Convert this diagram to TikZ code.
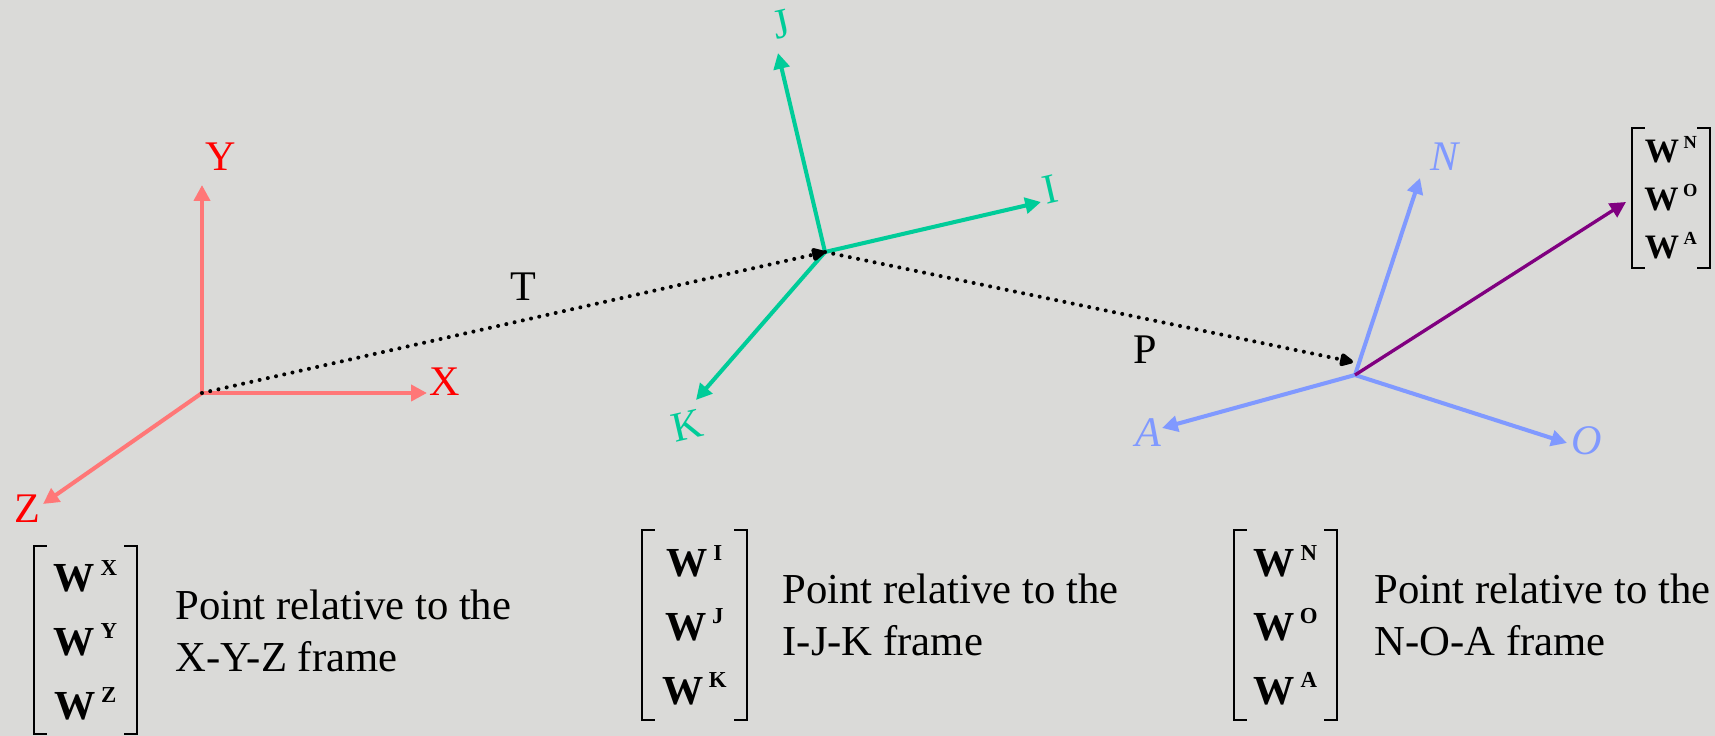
\documentclass[tikz,border=0pt]{standalone}
\usepackage{fontspec}
\setmainfont{Liberation Serif}
\usetikzlibrary{arrows.meta,positioning}

\definecolor{bgray}{RGB}{218,218,216}
\definecolor{xyzline}{RGB}{255,119,119}
\definecolor{xyztext}{RGB}{255,0,0}
\definecolor{ijkgreen}{RGB}{0,204,153}
\definecolor{noablue}{RGB}{128,153,255}
\definecolor{wpurple}{RGB}{128,0,128}

% bold W with a small bold frame letter raised next to it
\newcommand{\wcomp}[2][13]{\textbf{W}\hspace{0.13em}\raisebox{0.4em}{\fontsize{#1}{#1}\selectfont\bfseries #2}}
% square brackets round a vector node
\newcommand{\vecbrackets}[1]{%
  \draw[bracket] (#1.north west) ++(13,0) -- (#1.north west) -- (#1.south west) -- ++(13,0);
  \draw[bracket] (#1.north east) ++(-13,0) -- (#1.north east) -- (#1.south east) -- ++(-13,0);}

\tikzset{
  frameaxis/.style={line width=2.3pt, -{Triangle[length=9pt,width=9pt]}},
  axislab/.style={font=\fontsize{24}{26}\selectfont, inner sep=0pt},
  transf/.style={line width=2.3pt, dash pattern=on 0pt off 4.8pt, line cap=round,
    -{Triangle[length=9pt,width=8pt,round=false]}},
  vecbox/.style={inner sep=0pt, align=center, font=\fontsize{23.5}{36.2}\selectfont},
  bracket/.style={line width=1.1pt},
  vectext/.style={align=left, inner sep=0pt, font=\fontsize{24.3}{29.6}\selectfont}
}

\begin{document}
\begin{tikzpicture}[x=0.02cm, y=-0.02cm]
  \useasboundingbox (0,0) rectangle (1715,736);
  \fill[bgray] (0,0) rectangle (1715,736);

  % X-Y-Z frame
  \coordinate (oxyz) at (202,393);
  \coordinate (xtip) at (427,393);
  \coordinate (ytip) at (202,185);
  \coordinate (ztip) at (43,504);
  \draw[frameaxis, xyzline] (oxyz) -- (xtip);
  \draw[frameaxis, xyzline] (oxyz) -- (ytip);
  \draw[frameaxis, xyzline] (oxyz) -- (ztip);
  \node[axislab, text=xyztext] (xlab) at (445,382) {X};
  \node[axislab, text=xyztext] (ylab) at (221,157) {Y};
  \node[axislab, text=xyztext] (zlab) at (27,509) {Z};

  % I-J-K frame
  \coordinate (oijk) at (825,252);
  \coordinate (itip) at (1041,202);
  \coordinate (jtip) at (778,53);
  \coordinate (ktip) at (696,400);
  \draw[frameaxis, ijkgreen] (oijk) -- (itip);
  \draw[frameaxis, ijkgreen] (oijk) -- (jtip);
  \draw[frameaxis, ijkgreen] (oijk) -- (ktip);
  \node[axislab, text=ijkgreen, rotate=13] (ilab) at (1050,189) {I};
  \node[axislab, text=ijkgreen, rotate=13] (jlab) at (781,24) {J};
  \node[axislab, text=ijkgreen, rotate=13] (klab) at (687,426) {K};

  % N-O-A frame
  \coordinate (onoa) at (1355,375);
  \coordinate (ntip) at (1420,178);
  \coordinate (otip) at (1567,443);
  \coordinate (atip) at (1162,428);
  \draw[frameaxis, noablue] (onoa) -- (ntip);
  \draw[frameaxis, noablue] (onoa) -- (otip);
  \draw[frameaxis, noablue] (onoa) -- (atip);
  \node[axislab, text=noablue] (nlab) at (1446,157) {\textit{N}};
  \node[axislab, text=noablue] (olab) at (1587,441) {\textit{O}};
  \node[axislab, text=noablue] (alab) at (1148,433) {\textit{A}};

  % transforms
  \coordinate (ptip) at (1353,362);
  \draw[transf] (oxyz) -- (oijk);
  \draw[transf] (oijk) -- (ptip);
  \node[axislab] (tlab) at (523,287) {T};
  \node[axislab] (plab) at (1145,350) {P};

  % the point
  \node[vecbox, font=\fontsize{19.5}{27.3}\selectfont, minimum width=1.56cm, minimum height=2.8cm]
    (vecpt) at (1671,198) {\wcomp[10.5]{N}\\\wcomp[10.5]{O}\\\wcomp[10.5]{A}};
  \vecbrackets{vecpt}
  \coordinate (wtip) at (1626,202);
  \draw[frameaxis, wpurple, line width=1.9pt] (onoa) -- (wtip);

  % vectors in each frame
  \node[vecbox, minimum width=2.06cm, minimum height=3.76cm] (vecxyz) at (85.5,640)
    {\wcomp{X}\\\wcomp{Y}\\\wcomp{Z}};
  \vecbrackets{vecxyz}
  \node[vectext, right=0.76cm of vecxyz, yshift=5pt] (txtxyz) {Point relative to the\\X-Y-Z frame};

  \node[vecbox, minimum width=2.1cm, minimum height=3.8cm] (vecijk) at (694.5,625)
    {\wcomp{I}\\\wcomp{J}\\\wcomp{K}};
  \vecbrackets{vecijk}
  \node[vectext, right=0.7cm of vecijk, yshift=6pt] (txtijk) {Point relative to the\\I-J-K frame};

  \node[vecbox, minimum width=2.06cm, minimum height=3.8cm] (vecnoa) at (1285.5,625)
    {\wcomp{N}\\\wcomp{O}\\\wcomp{A}};
  \vecbrackets{vecnoa}
  \node[vectext, right=0.74cm of vecnoa, yshift=6pt] (txtnoa) {Point relative to the\\N-O-A frame};
\end{tikzpicture}
\end{document}
